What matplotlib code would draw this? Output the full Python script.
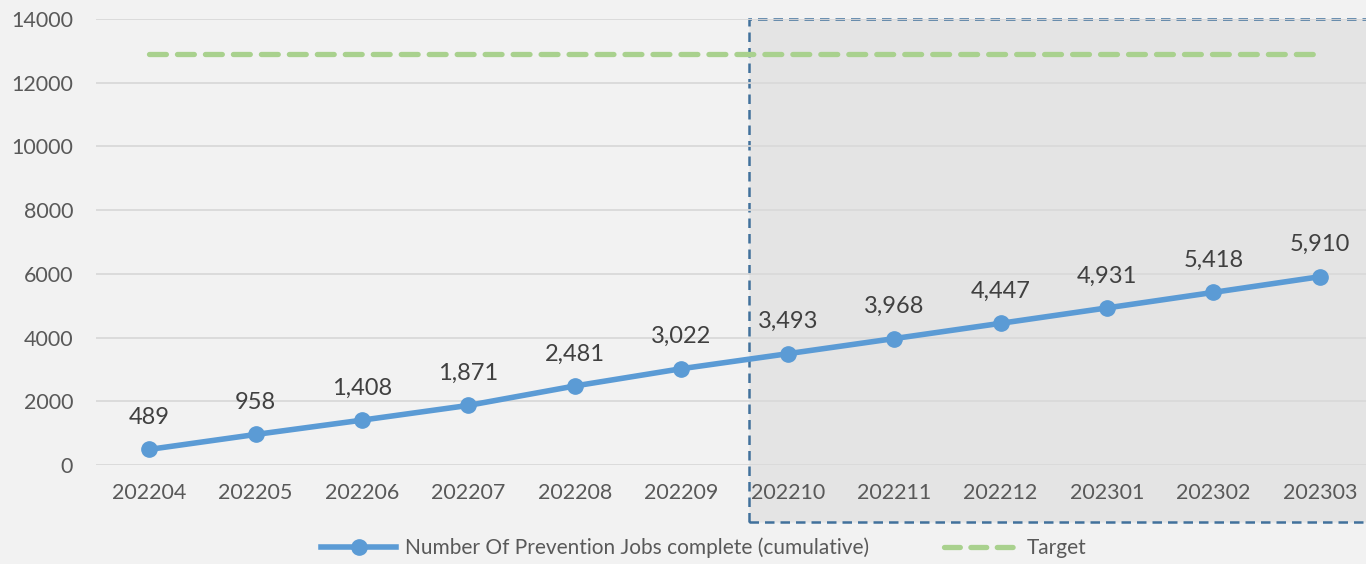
import matplotlib
matplotlib.use("Agg")
import matplotlib.pyplot as plt
from matplotlib.patches import Rectangle
from matplotlib.lines import Line2D

months = ["202204", "202205", "202206", "202207", "202208", "202209",
          "202210", "202211", "202212", "202301", "202302", "202303"]
jobs = [489, 958, 1408, 1871, 2481, 3022, 3493, 3968, 4447, 4931, 5418, 5910]
target = [12900] * len(months)
yticks = [0, 2000, 4000, 6000, 8000, 10000, 12000, 14000]

plt.rcParams['font.family'] = ['Lato', 'DejaVu Sans']
txt = '#595959'
bg = '#F2F2F2'

W, H = 1366, 564
fig = plt.figure(figsize=(W / 100, H / 100), dpi=100, facecolor=bg)
# axes in pixel terms: left 96, right 1373, top 19, bottom 465
ax = fig.add_axes([96 / W, 1 - 465 / H, (1373 - 96) / W, (465 - 19) / H])
ax.set_facecolor(bg)
ax.patch.set_alpha(0)

x = list(range(len(months)))
ax.set_xlim(-0.5, len(months) - 0.5)
ax.set_ylim(0, 14000)

# shaded forecast region
shade_x0 = 5.64
shade = Rectangle((shade_x0, -1790), 20, 14000 + 1790, transform=ax.transData,
                  facecolor='#E4E4E4', edgecolor='#41719C', linewidth=1.8,
                  linestyle=(0, (3.8, 2.4)), clip_on=False, zorder=0)
ax.add_patch(shade)

for t in yticks:
    ax.axhline(t, color='#D9D9D9', linewidth=1.3, zorder=1)

ax.plot(x, target, color='#A9D18E', linewidth=3.8, linestyle=(0, (3.2, 2.1)),
        dash_capstyle='round', zorder=2, label='Target')
ax.plot(x, jobs, color='#5B9BD5', linewidth=4, marker='o', markersize=11,
        zorder=3, label='Number Of Prevention Jobs complete (cumulative)')

for xi, v in zip(x, jobs):
    ax.annotate(f"{v:,}", (xi, v), xytext=(0, 23), textcoords='offset points',
                ha='center', va='center', fontsize=17, color='#404040', zorder=4)

ax.set_xticks(x)
ax.set_xticklabels(months)
ax.set_yticks(yticks)
ax.set_yticklabels([str(t) for t in yticks])
ax.tick_params(axis='both', length=0, labelsize=15.5, colors=txt)
ax.tick_params(axis='x', pad=13)
ax.tick_params(axis='y', pad=16.5)
for s in ax.spines.values():
    s.set_visible(False)

handles = [
    Line2D([0], [0], color='#5B9BD5', linewidth=4, marker='o', markersize=11),
    Line2D([0], [0], color='#A9D18E', linewidth=3.8, linestyle=(0, (3.0, 2.0)),
           dash_capstyle='round'),
]
labels = ['Number Of Prevention Jobs complete (cumulative)', 'Target']
fig.legend(handles, labels, loc='center', bbox_to_anchor=(704 / W, 1 - 548 / H),
           ncol=2, frameon=False, fontsize=15, labelcolor=txt,
           handlelength=3.6, columnspacing=3.6, handletextpad=0.4)

fig.savefig('out.png', dpi=100, facecolor=bg)
